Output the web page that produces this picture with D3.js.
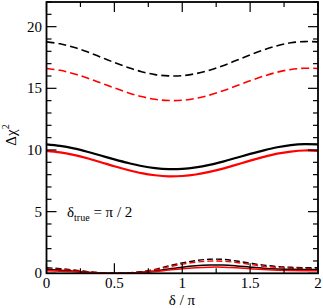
<!DOCTYPE html>
<html><head><meta charset="utf-8">
<script src="https://cdn.jsdelivr.net/npm/d3@7"></script>
<style>body{margin:0;background:#fff}</style>
</head><body><svg id="c" width="323" height="308"></svg>
<script>
const delta = [0,0.1,0.2,0.3,0.4,0.5,0.6,0.7,0.8,0.9,1.0,1.1,1.2,1.3,1.4,1.5,1.6,1.7,1.8,1.9,2.0];
const blackDashedHigh = [18.77,18.61,18.33,17.96,17.53,17.09,16.69,16.35,16.11,16.01,16.03,16.19,16.47,16.84,17.27,17.71,18.11,18.45,18.69,18.79,18.77];
const redDashedHigh = [16.61,16.46,16.19,15.84,15.44,15.03,14.65,14.33,14.11,14.01,14.03,14.18,14.45,14.80,15.20,15.61,15.99,16.31,16.53,16.63,16.61];
const blackSolidHigh = [10.45,10.33,10.13,9.86,9.55,9.24,8.95,8.70,8.53,8.45,8.47,8.59,8.79,9.06,9.37,9.68,9.97,10.22,10.39,10.47,10.45];
const redSolidHigh = [9.93,9.81,9.60,9.33,9.01,8.68,8.38,8.12,7.95,7.86,7.89,8.01,8.22,8.49,8.81,9.14,9.44,9.70,9.87,9.96,9.93];
const blackDashedLow = [0.45,0.38,0.27,0.14,0.04,0.0,0.03,0.13,0.32,0.6,0.85,1.03,1.14,1.13,1.0,0.82,0.66,0.55,0.49,0.46,0.45];
const redDashedLow = [0.38,0.32,0.23,0.12,0.03,0,0.03,0.11,0.28,0.52,0.74,0.9,0.99,0.98,0.88,0.72,0.57,0.47,0.42,0.39,0.38];
const blackSolidLow = [0.3,0.25,0.17,0.09,0.02,0,0.02,0.08,0.19,0.35,0.5,0.61,0.67,0.67,0.6,0.5,0.41,0.35,0.32,0.3,0.3];
const redSolidLow = [0.2,0.17,0.12,0.06,0.02,0,0.01,0.06,0.14,0.26,0.37,0.45,0.5,0.5,0.45,0.37,0.3,0.25,0.22,0.2,0.2];
const xTicks = [0,0.5,1,1.5,2];
const xTickLabels = ["0","0.5","1","1.5","2"];
const yTicks = [0,5,10,15,20];
const yTickLabels = ["0","5","10","15","20"];

const svg = d3.select("#c");
const L=46.5, R=318, T=2, B=273.3;
const x = d3.scaleLinear().domain([0,2]).range([L,R]);
const y = d3.scaleLinear().domain([0,22]).range([B,T]);

svg.append("clipPath").attr("id","cp").append("rect").attr("x",L).attr("y",T).attr("width",R-L).attr("height",B-T);
const g = svg.append("g").attr("clip-path","url(#cp)");
const line = d3.line().x((d,i)=>x(delta[i])).y(d=>y(d)).curve(d3.curveCatmullRom);
const series = [
 [blackDashedHigh,"#000",1.6,"8,4"],
 [redDashedHigh,"#ff0000",1.6,"8,4"],
 [blackSolidHigh,"#000",2.2,null],
 [redSolidHigh,"#ff0000",2.2,null],
 [blackDashedLow,"#000",1.4,"6,3"],
 [redDashedLow,"#ff0000",1.4,"6,3"],
 [blackSolidLow,"#000",1.5,null],
 [redSolidLow,"#ff0000",1.5,null]
];
series.forEach(s=>{
  const p=g.append("path").attr("d",line(s[0])).attr("fill","none").attr("stroke",s[1]).attr("stroke-width",s[2]);
  if(s[3]) p.attr("stroke-dasharray",s[3]);
});

const ax = svg.append("g").attr("stroke","#000");
const xMinor = d3.range(0,2.001,0.25);
const yMinor = d3.range(0,22.001,1);
xMinor.forEach(v=>{
  const major = xTicks.includes(v);
  const len = major?10:5;
  ax.append("line").attr("x1",x(v)).attr("x2",x(v)).attr("y1",B).attr("y2",B-len).attr("stroke-width",1.2);
  ax.append("line").attr("x1",x(v)).attr("x2",x(v)).attr("y1",T).attr("y2",T+len).attr("stroke-width",1.2);
});
yMinor.forEach(v=>{
  const major = yTicks.includes(v);
  const len = major?10:5;
  ax.append("line").attr("x1",L).attr("x2",L+len).attr("y1",y(v)).attr("y2",y(v)).attr("stroke-width",1.2);
  ax.append("line").attr("x1",R).attr("x2",R-len).attr("y1",y(v)).attr("y2",y(v)).attr("stroke-width",1.2);
});
ax.append("rect").attr("x",L).attr("y",T).attr("width",R-L).attr("height",B-T).attr("fill","none").attr("stroke-width",1.8);

const F = "Liberation Serif";
xTicks.forEach((v,i)=>{
  svg.append("text").attr("font-family",F).attr("x",x(v)).attr("y",288).attr("text-anchor","middle").attr("font-size",15).text(xTickLabels[i]);
});
yTicks.forEach((v,i)=>{
  svg.append("text").attr("font-family",F).attr("x",42).attr("y",y(v)+5).attr("text-anchor","end").attr("font-size",15).text(yTickLabels[i]);
});
svg.append("text").attr("font-family",F).attr("x",182).attr("y",305).attr("text-anchor","middle").attr("font-size",15).text("δ / π");
const yl = svg.append("text").attr("font-family",F).attr("transform","translate(16,135) rotate(-90)").attr("text-anchor","middle").attr("font-size",15);
yl.append("tspan").text("Δχ");
yl.append("tspan").attr("font-size",10).attr("dy",-7).text("2");
const ann = svg.append("text").attr("font-family",F).attr("x",67).attr("y",217).attr("font-size",15);
ann.append("tspan").text("δ");
ann.append("tspan").attr("font-size",10).attr("dy",4).text("true");
ann.append("tspan").attr("dy",-4).text(" = π / 2");
</script></body></html>
